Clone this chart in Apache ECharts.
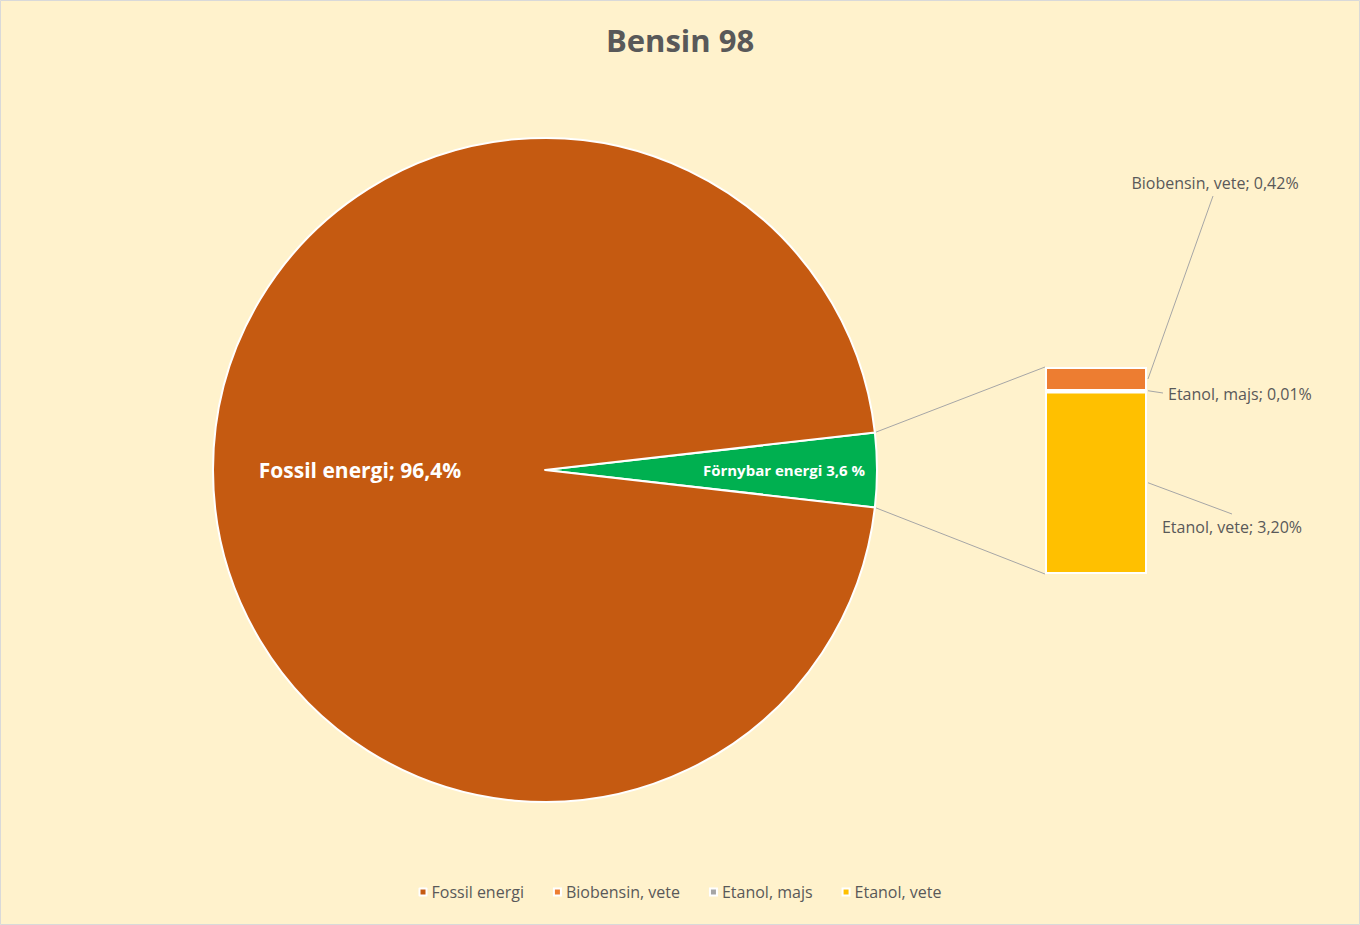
<!DOCTYPE html>
<html><head><meta charset="utf-8">
<script src="https://cdn.jsdelivr.net/npm/echarts@6/dist/echarts.min.js"></script>
<style>html,body{margin:0;padding:0;background:#FFF2CC}#c{width:1360px;height:925px}</style>
</head><body><div id="c"></div>
<script>
const titleText = 'Bensin 98';
const pieNames = ['Förnybar energi', 'Fossil energi'];
const pieValues = [3.6, 96.4];
const pieLabels = ['Förnybar energi 3,6 %', 'Fossil energi; 96,4%'];
const barNames = ['Etanol, vete', 'Etanol, majs', 'Biobensin, vete'];
const barValues = [3.20, 0.01, 0.42];
const barLabels = ['Etanol, vete; 3,20%', 'Etanol, majs; 0,01%', 'Biobensin, vete; 0,42%'];
const legendNames = ['Fossil energi', 'Biobensin, vete', 'Etanol, majs', 'Etanol, vete'];

const FONT = '"Open Sans", Lato, sans-serif';
const pieColors = ['#00B050', '#C55A11'];
const barColors = ['#FFC000', '#A5A5A5', '#ED7D31'];
const CX = 545, CY = 470, R = 332;
const GL = 1045, GT = 367, GW = 102, GH = 207;
const total = barValues.reduce((a, b) => a + b, 0);
const half = pieValues[0] / (pieValues[0] + pieValues[1]) * 180;

const chart = echarts.init(document.getElementById('c'), null, {renderer: 'svg'});
const option = {
  backgroundColor: '#FFF2CC',
  animation: false,
  title: {text: titleText, left: 'center', top: 19,
    textStyle: {fontFamily: FONT, fontSize: 31, fontWeight: 'bold', color: '#595959'}},
  legend: {data: legendNames, bottom: 20, left: 'center', icon: 'rect', itemWidth: 7, itemHeight: 7, itemGap: 29,
    textStyle: {fontFamily: FONT, fontSize: 16, color: '#595959'}},
  grid: {left: GL, top: GT, width: GW, height: GH},
  xAxis: {type: 'category', data: ['x'], show: false},
  yAxis: {type: 'value', min: 0, max: total, show: false},
  series: [
    {type: 'pie', center: [CX, CY], radius: R, startAngle: half, clockwise: true,
     data: pieNames.map((n, i) => ({name: n, value: pieValues[i], itemStyle: {color: pieColors[i]},
        label: {formatter: pieLabels[i], fontSize: i === 0 ? 15 : 21}})),
     itemStyle: {borderColor: '#fff', borderWidth: 2},
     label: {position: 'inside', color: '#fff', fontWeight: 'bold', fontFamily: FONT},
     labelLayout: function (p) { return p.dataIndex === 0 ? {dx: 35} : {dx: -8}; },
     labelLine: {show: false}, emphasis: {disabled: true}
    },
    ...barNames.map((n, i) => ({
      type: 'bar', name: n, stack: 's', data: [barValues[i]], barWidth: '100%',
      itemStyle: {color: barColors[i], borderColor: '#fff', borderWidth: 2},
      emphasis: {disabled: true}
    }))
  ]
};
chart.setOption(option);

// connectors
const rad = half * Math.PI / 180;
const p1 = [CX + R * Math.cos(rad), CY - R * Math.sin(rad)];
const p2 = [CX + R * Math.cos(rad), CY + R * Math.sin(rad)];
const lineStyle = {stroke: '#A6A6A6', lineWidth: 1};
const gfx = [
  {type: 'rect', shape: {x: 0.5, y: 0.5, width: 1359, height: 924}, style: {fill: 'none', stroke: '#D9D9D9', lineWidth: 1}, silent: true},
  {type: 'line', shape: {x1: p1[0], y1: p1[1], x2: GL, y2: GT}, style: lineStyle, silent: true},
  {type: 'line', shape: {x1: p2[0], y1: p2[1], x2: GL, y2: GT + GH}, style: lineStyle, silent: true}
];
let cum = 0;
const mids = barValues.map(v => { const m = cum + v / 2; cum += v; return chart.convertToPixel({gridIndex: 0}, [0, m])[1]; });
const right = GL + GW + 1;
const labelPos = [
  {x: 1232, y: 527, align: 'center', lx: 1232, ly: 514},
  {x: 1168, y: 394, align: 'left', lx: 1163, ly: 393},
  {x: 1215, y: 183, align: 'center', lx: 1213, ly: 196}
];
barLabels.forEach((t, i) => {
  const lp = labelPos[i];
  gfx.push({type: 'text', x: lp.x, y: lp.y, style: {text: t, fill: '#595959', font: '16px ' + FONT, textAlign: lp.align, textVerticalAlign: 'middle'}, silent: true});
  const sy = i === 1 ? mids[i] - 0.5 : mids[i];
  gfx.push({type: 'line', shape: {x1: right, y1: sy, x2: lp.lx, y2: lp.ly}, style: lineStyle, silent: true});
});
chart.setOption({graphic: gfx});
</script></body></html>
